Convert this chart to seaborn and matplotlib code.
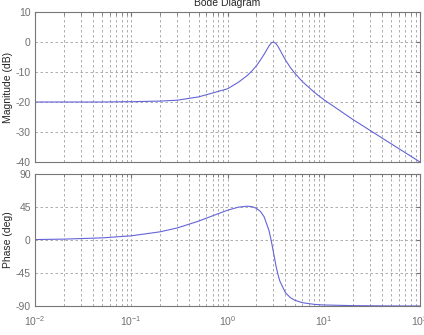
import numpy as np
import pandas as pd
import matplotlib
matplotlib.use("Agg")
import matplotlib.pyplot as plt
import seaborn as sns
from matplotlib.ticker import LogLocator, FixedLocator, NullFormatter

freq = [0.01, 0.02, 0.05, 0.1, 0.2, 0.3, 0.5, 0.7, 1.0, 1.3, 1.6, 1.8, 2.0,
        2.2, 2.4, 2.7, 2.85, 3.0, 3.2, 3.35, 3.5, 4.0, 4.5, 5.0, 6.0, 8.0,
        10.0, 20.0, 50.0, 100.0]
magnitude_db = [-20.0, -20.0, -20.0, -19.9, -19.7, -19.4, -18.3, -17.0, -15.6,
                -13.4, -11.2, -9.6, -7.9, -6.0, -4.1, -1.3, -0.3, 0.0, -0.6,
                -1.5, -2.6, -6.0, -8.5, -10.4, -13.2, -16.8, -19.2, -25.8,
                -33.9, -40.0]
phase_deg = [0.6, 1.2, 2.9, 5.7, 11.2, 16.4, 25.7, 33.0, 40.6, 44.8, 46.1, 45.4,
             43.1, 38.9, 31.7, 12.8, -1.1, -16.7, -36.1, -47.4, -56.1, -71.9,
             -78.6, -82.1, -85.5, -87.8, -88.6, -89.5, -89.9, -90.0]
mag_ticks = [-40, -30, -20, -10, 0, 10]
phase_ticks = [-90, -45, 0, 45, 90]

df = pd.DataFrame({"freq": freq, "mag": magnitude_db, "phase": phase_deg})

sns.set_style("white")
plt.rcParams["font.family"] = ["Liberation Sans", "DejaVu Sans"]
plt.rcParams["mathtext.fontset"] = "custom"
plt.rcParams["mathtext.rm"] = "Liberation Sans"

fig = plt.figure(figsize=(4.24, 3.35), dpi=100)
ax1 = fig.add_axes([35/424, 1-162/335, 385/424, 150/335])
ax2 = fig.add_axes([35/424, 1-306/335, 385/424, 132/335])

line_color = "#6464d8"
tick_color = "#707070"
grid_kw = dict(color="#a0a0a0", linestyle=(0, (3, 3)), linewidth=0.6)

sns.lineplot(data=df, x="freq", y="mag", ax=ax1, color=line_color, linewidth=0.8)
sns.lineplot(data=df, x="freq", y="phase", ax=ax2, color=line_color, linewidth=0.8)

for ax, ticks in ((ax1, mag_ticks), (ax2, phase_ticks)):
    ax.set_xscale("log")
    ax.set_xlim(0.01, 100)
    ax.set_ylim(ticks[0], ticks[-1])
    ax.yaxis.set_major_locator(FixedLocator(ticks))
    ax.xaxis.set_major_locator(LogLocator(base=10, numticks=10))
    ax.xaxis.set_minor_locator(LogLocator(base=10, subs=np.arange(2, 10), numticks=20))
    ax.xaxis.set_minor_formatter(NullFormatter())
    ax.grid(True, which="major", axis="both", **grid_kw)
    ax.grid(True, which="minor", axis="x", **grid_kw)
    for s in ax.spines.values():
        s.set_visible(True)
        s.set_color("#777777")
        s.set_linewidth(0.8)
    ax.tick_params(axis="both", which="both", direction="in", colors=tick_color,
                   labelsize=7.5, top=True, right=True, length=3)
    ax.tick_params(axis="both", which="minor", length=2)
    ax.tick_params(axis="y", pad=3)
    ax.set_xlabel("")
    ax.set_ylabel("")

ax1.set_yticklabels([str(t) for t in mag_ticks])
ax2.set_yticklabels([str(t) for t in phase_ticks])
ax1.tick_params(axis="x", labelbottom=False)
ax2.tick_params(axis="x", pad=6)

ax1.set_ylabel("Magnitude (dB)", fontsize=7.5, labelpad=2)
ax2.set_ylabel("Phase (deg)", fontsize=7.5, labelpad=2)
ax1.set_title("Bode Diagram", fontsize=7.5, pad=4)
ax2.set_xlabel("Frequency (rad/sec)", fontsize=7.5, labelpad=8)

fig.savefig("out.png", dpi=100)
